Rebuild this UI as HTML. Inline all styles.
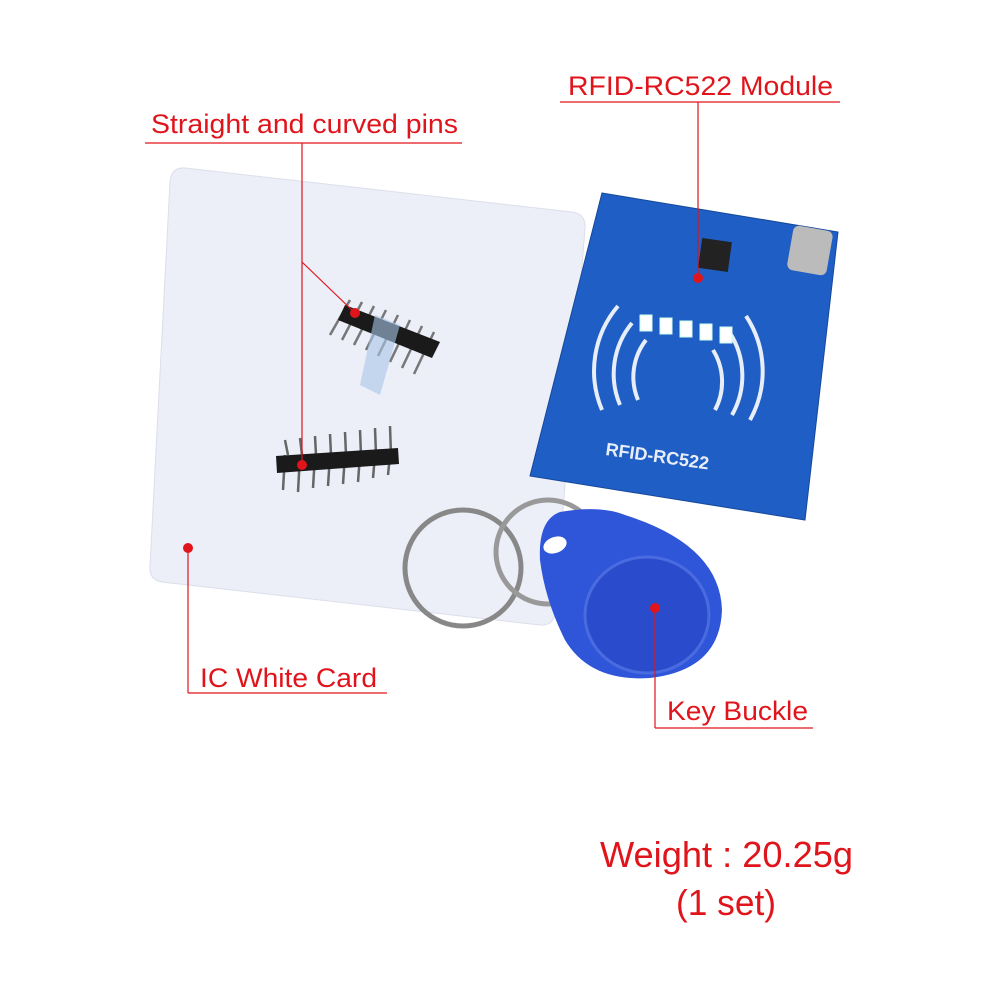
<!DOCTYPE html>
<html><head><meta charset="utf-8"><style>
html,body{margin:0;padding:0;background:#fff;}
svg{display:block}
text{font-family:"Liberation Sans",sans-serif;fill:#e0141b}
</style></head><body>
<svg width="1000" height="1000" viewBox="0 0 1000 1000" xmlns="http://www.w3.org/2000/svg">
<rect width="1000" height="1000" fill="#fff"/>
<!-- white card -->
<path d="M185,168 L572,212 Q586,214 585,228 L555,612 Q554,626 540,625 L162,582 Q149,580 150,566 L170,182 Q171,167 185,168Z" fill="#eceef8" stroke="#dcdfea"/>
<!-- pins straight -->
<g stroke="#777" stroke-width="2.5">
<line x1="350" y1="300" x2="330" y2="335"/><line x1="362" y1="302" x2="342" y2="340"/><line x1="374" y1="306" x2="354" y2="345"/><line x1="386" y1="310" x2="366" y2="350"/><line x1="398" y1="315" x2="378" y2="356"/><line x1="410" y1="320" x2="390" y2="362"/><line x1="422" y1="326" x2="402" y2="368"/><line x1="434" y1="332" x2="414" y2="374"/>
</g>
<path d="M345,305 L440,342 L432,358 L338,320Z" fill="#1a1a1a"/>
<path d="M375,315 L400,325 L380,395 L360,385Z" fill="#a9c6e6" opacity="0.6"/>
<!-- pins curved -->
<g stroke="#666" stroke-width="2.5">
<line x1="285" y1="455" x2="283" y2="490"/><line x1="300" y1="455" x2="298" y2="492"/><line x1="315" y1="455" x2="313" y2="488"/><line x1="330" y1="455" x2="328" y2="486"/><line x1="345" y1="455" x2="343" y2="484"/><line x1="360" y1="455" x2="358" y2="482"/><line x1="375" y1="455" x2="373" y2="478"/><line x1="390" y1="455" x2="388" y2="475"/>
<line x1="285" y1="440" x2="288" y2="455"/><line x1="300" y1="438" x2="302" y2="455"/><line x1="315" y1="436" x2="316" y2="455"/><line x1="330" y1="434" x2="331" y2="455"/><line x1="345" y1="432" x2="346" y2="455"/><line x1="360" y1="430" x2="361" y2="455"/><line x1="375" y1="428" x2="376" y2="455"/><line x1="390" y1="426" x2="391" y2="455"/>
</g>
<path d="M276,456 L398,448 L399,464 L277,473Z" fill="#1a1a1a"/>
<!-- board -->
<path d="M602,193 L838,232 L805,520 L530,476Z" fill="#1f5ec4" stroke="#16489a"/>
<g fill="none" stroke="#e8eef8" stroke-width="4">
<path d="M638,400 a60,60 0 0 1 8,-60"/><path d="M620,405 a80,80 0 0 1 12,-82"/><path d="M602,410 a100,100 0 0 1 16,-104"/>
<path d="M715,410 a60,60 0 0 0 -2,-60"/><path d="M732,415 a80,80 0 0 0 -2,-82"/><path d="M750,420 a100,100 0 0 0 -4,-104"/>
</g>
<text x="605" y="455" style="fill:#e8eef8;font-size:18px;font-weight:bold" transform="rotate(8 605 455)">RFID-RC522</text>
<rect x="700" y="240" width="30" height="30" fill="#222" transform="rotate(8 715 255)"/>
<rect x="790" y="228" width="40" height="45" fill="#bbb" rx="6" transform="rotate(10 810 250)"/>
<g fill="#fff" stroke="#cfe" stroke-width="1"><rect x="640" y="315" width="12" height="16"/><rect x="660" y="318" width="12" height="16"/><rect x="680" y="321" width="12" height="16"/><rect x="700" y="324" width="12" height="16"/><rect x="720" y="327" width="12" height="16"/></g>
<!-- ring -->
<circle cx="463" cy="568" r="58" fill="none" stroke="#888" stroke-width="5"/>
<circle cx="548" cy="552" r="52" fill="none" stroke="#999" stroke-width="5"/>
<!-- key fob -->
<path d="M560,512 Q600,505 625,515 Q720,545 722,610 Q720,670 650,678 Q590,682 565,640 Q545,600 540,560 Q538,520 560,512Z" fill="#2f55d8"/>
<ellipse cx="647" cy="615" rx="62" ry="58" fill="#2a4ccc" stroke="#4a6be0" stroke-width="3"/>
<ellipse cx="555" cy="545" rx="12" ry="8" fill="#fff" transform="rotate(-20 555 545)"/>
<!-- leaders -->
<g stroke="#e0141b" stroke-width="1.2" fill="none">
<line x1="560" y1="102" x2="840" y2="102"/><line x1="698" y1="102" x2="698" y2="278"/>
<line x1="145" y1="143" x2="462" y2="143"/><line x1="302" y1="143" x2="302" y2="465"/><line x1="302" y1="262" x2="355" y2="313"/>
<line x1="188" y1="548" x2="188" y2="693"/><line x1="188" y1="693" x2="387" y2="693"/>
<line x1="655" y1="608" x2="655" y2="728"/><line x1="655" y1="728" x2="813" y2="728"/>
</g>
<g fill="#e0141b"><circle cx="698" cy="278" r="5"/><circle cx="302" cy="465" r="5"/><circle cx="355" cy="313" r="5"/><circle cx="188" cy="548" r="5"/><circle cx="655" cy="608" r="5"/></g>
<text x="568" y="95" style="font-size:27px" textLength="265" lengthAdjust="spacingAndGlyphs">RFID-RC522 Module</text>
<text x="151" y="133" style="font-size:27px" textLength="307" lengthAdjust="spacingAndGlyphs">Straight and curved pins</text>
<text x="200" y="687" style="font-size:27px" textLength="177" lengthAdjust="spacingAndGlyphs">IC White Card</text>
<text x="667" y="720" style="font-size:27px" textLength="141" lengthAdjust="spacingAndGlyphs">Key Buckle</text>
<text x="600" y="867" style="font-size:36px" textLength="253" lengthAdjust="spacingAndGlyphs">Weight : 20.25g</text>
<text x="676" y="915" style="font-size:36px" textLength="100" lengthAdjust="spacingAndGlyphs">(1 set)</text>
</svg>
</body></html>
